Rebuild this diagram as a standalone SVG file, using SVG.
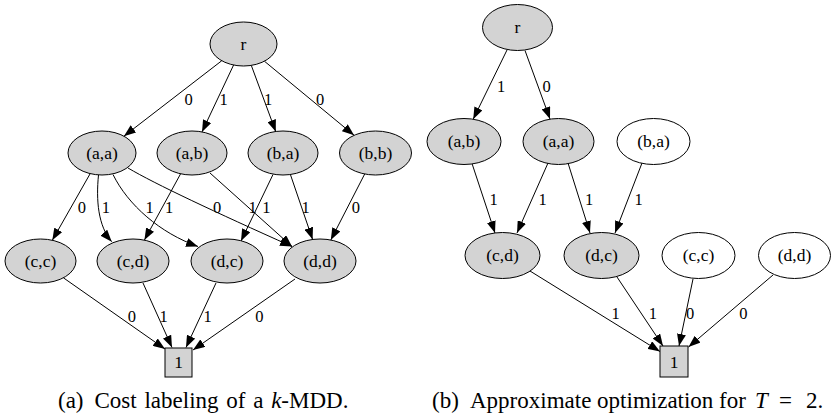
<svg xmlns="http://www.w3.org/2000/svg" width="831" height="420" viewBox="0 0 831 420">
  <defs>
    <marker id="arrow" viewBox="0 0 12 9" refX="12" refY="4.5" markerWidth="12" markerHeight="9" orient="auto" markerUnits="userSpaceOnUse">
      <path d="M0,0 L12,4.5 L0,9 Z" fill="#000"/>
    </marker>
  </defs>
  <style>
    text { font-family: "Liberation Serif", "Times New Roman", serif; fill: #000; }
    .node ellipse, .node rect { stroke: #000; stroke-width: 1; }
    .on ellipse, .on rect { fill: #d3d3d3; }
    .off ellipse { fill: #fff; }
    .node text { font-size: 17.5px; text-anchor: middle; }
    .edges path { fill: none; stroke: #000; stroke-width: 1; marker-end: url(#arrow); }
    .edges text { font-size: 16.5px; text-anchor: middle; }
    .caption { font-size: 23px; }
    .caption .it { font-style: italic; }
  </style>

  <!-- ===== (a) cost labeling ===== -->
  <g id="a-edges" class="edges">
    <path d="M221.8,60.7 L123.9,136.2"/>
    <path d="M233.6,65 L202,131.9"/>
    <path d="M251.3,65.4 L275.8,131.8"/>
    <path d="M264.4,61.2 L354.1,135.3"/>
    <text x="188.5" y="105">0</text>
    <text x="223.7" y="105">1</text>
    <text x="268" y="105">1</text>
    <text x="320" y="105">0</text>

    <path d="M90.2,173.6 L52.3,240.3"/>
    <path d="M98.5,175 C96,200 98,226 111.7,241.7"/>
    <path d="M113,174.5 C128,205 160,233 198,246.5"/>
    <path d="M128,168 C155,184 215,212 292,246.5"/>
    <path d="M180.6,173.8 L144.4,240.1"/>
    <path d="M210,173 L292,246.5"/>
    <path d="M273,174.5 L241,241"/>
    <path d="M290.4,174.5 L312.6,239.5"/>
    <path d="M364.7,174 L330.8,240"/>
    <text x="81.8" y="213">0</text>
    <text x="105.8" y="213">1</text>
    <text x="149.5" y="213">1</text>
    <text x="169.2" y="213">1</text>
    <text x="217" y="213">0</text>
    <text x="252.5" y="213">1</text>
    <text x="266.3" y="213">1</text>
    <text x="305.5" y="213">1</text>
    <text x="355.8" y="213">0</text>

    <path d="M63.4,277.8 L165,349"/>
    <path d="M143,283 L172,347.5"/>
    <path d="M216,283 L186,347.5"/>
    <path d="M295,279 L193,350"/>
    <text x="131.8" y="321.5">0</text>
    <text x="163.5" y="321.5">1</text>
    <text x="207.5" y="321.5">1</text>
    <text x="259.3" y="321.5">0</text>
  </g>

  <g id="a-r" class="node on"><ellipse cx="243.5" cy="44" rx="33.5" ry="22"/><text x="243.5" y="49.5">r</text></g>
  <g id="a-aa" class="node on"><ellipse cx="102" cy="153" rx="34" ry="22"/><text x="102" y="158.5">(a,a)</text></g>
  <g id="a-ab" class="node on"><ellipse cx="192" cy="153" rx="35" ry="22"/><text x="192" y="158.5">(a,b)</text></g>
  <g id="a-ba" class="node on"><ellipse cx="283" cy="153" rx="35" ry="22"/><text x="283" y="158.5">(b,a)</text></g>
  <g id="a-bb" class="node on"><ellipse cx="375.5" cy="153" rx="36" ry="22"/><text x="375.5" y="158.5">(b,b)</text></g>
  <g id="a-cc" class="node on"><ellipse cx="40.5" cy="261" rx="35.5" ry="22"/><text x="40.5" y="266.5">(c,c)</text></g>
  <g id="a-cd" class="node on"><ellipse cx="133" cy="261" rx="36" ry="22"/><text x="133" y="266.5">(c,d)</text></g>
  <g id="a-dc" class="node on"><ellipse cx="227" cy="261" rx="36" ry="22"/><text x="227" y="266.5">(d,c)</text></g>
  <g id="a-dd" class="node on"><ellipse cx="320" cy="261" rx="36" ry="22"/><text x="320" y="266.5">(d,d)</text></g>
  <g id="a-one" class="node on"><rect x="165" y="348" width="27" height="29"/><text x="178.5" y="368">1</text></g>

  <text class="caption" y="407.5" word-spacing="2"><tspan x="58">(a)</tspan><tspan x="94.5">Cost labeling of a </tspan><tspan class="it">k</tspan><tspan>-MDD.</tspan></text>

  <!-- ===== (b) approximate optimization ===== -->
  <g id="b-edges" class="edges">
    <path d="M507,50 L473.2,119.2"/>
    <path d="M525,50.5 L550,119"/>
    <text x="501.2" y="91.5">1</text>
    <text x="546.7" y="91.5">0</text>

    <path d="M472,163.5 L495,233"/>
    <path d="M548,163 L517,233"/>
    <path d="M568,163 L590,233"/>
    <path d="M642,163 L615,233"/>
    <text x="493.5" y="205">1</text>
    <text x="542.5" y="205">1</text>
    <text x="589.2" y="205">1</text>
    <text x="638.5" y="205">1</text>

    <path d="M530,271 L660,351.5"/>
    <path d="M617,277 L663,346"/>
    <path d="M693,279 L679,346"/>
    <path d="M773,275 L688.5,347"/>
    <text x="615.5" y="319">1</text>
    <text x="652.8" y="319">1</text>
    <text x="690" y="319">0</text>
    <text x="743.3" y="319">0</text>
  </g>

  <g id="b-r" class="node on"><ellipse cx="517.5" cy="27.5" rx="35" ry="23"/><text x="517.5" y="33">r</text></g>
  <g id="b-ab" class="node on"><ellipse cx="464" cy="141.5" rx="37" ry="23"/><text x="464" y="147">(a,b)</text></g>
  <g id="b-aa" class="node on"><ellipse cx="558.5" cy="141.5" rx="35.5" ry="23"/><text x="558.5" y="147">(a,a)</text></g>
  <g id="b-ba" class="node off"><ellipse cx="653.5" cy="141.5" rx="36.5" ry="23"/><text x="653.5" y="147">(b,a)</text></g>
  <g id="b-cd" class="node on"><ellipse cx="502.5" cy="255.5" rx="37.5" ry="23"/><text x="502.5" y="261">(c,d)</text></g>
  <g id="b-dc" class="node on"><ellipse cx="601.5" cy="255.5" rx="37.5" ry="23"/><text x="601.5" y="261">(d,c)</text></g>
  <g id="b-cc" class="node off"><ellipse cx="698.5" cy="255.5" rx="36.5" ry="23"/><text x="698.5" y="261">(c,c)</text></g>
  <g id="b-dd" class="node off"><ellipse cx="794.5" cy="255.5" rx="36" ry="23"/><text x="794.5" y="261">(d,d)</text></g>
  <g id="b-one" class="node on"><rect x="660" y="346" width="28" height="31"/><text x="674" y="367.5">1</text></g>

  <text class="caption" y="407.5"><tspan x="432">(b)</tspan><tspan x="470">Approximate optimization for</tspan><tspan x="755" class="it">T</tspan><tspan x="779">=</tspan><tspan x="806">2.</tspan></text>
</svg>
